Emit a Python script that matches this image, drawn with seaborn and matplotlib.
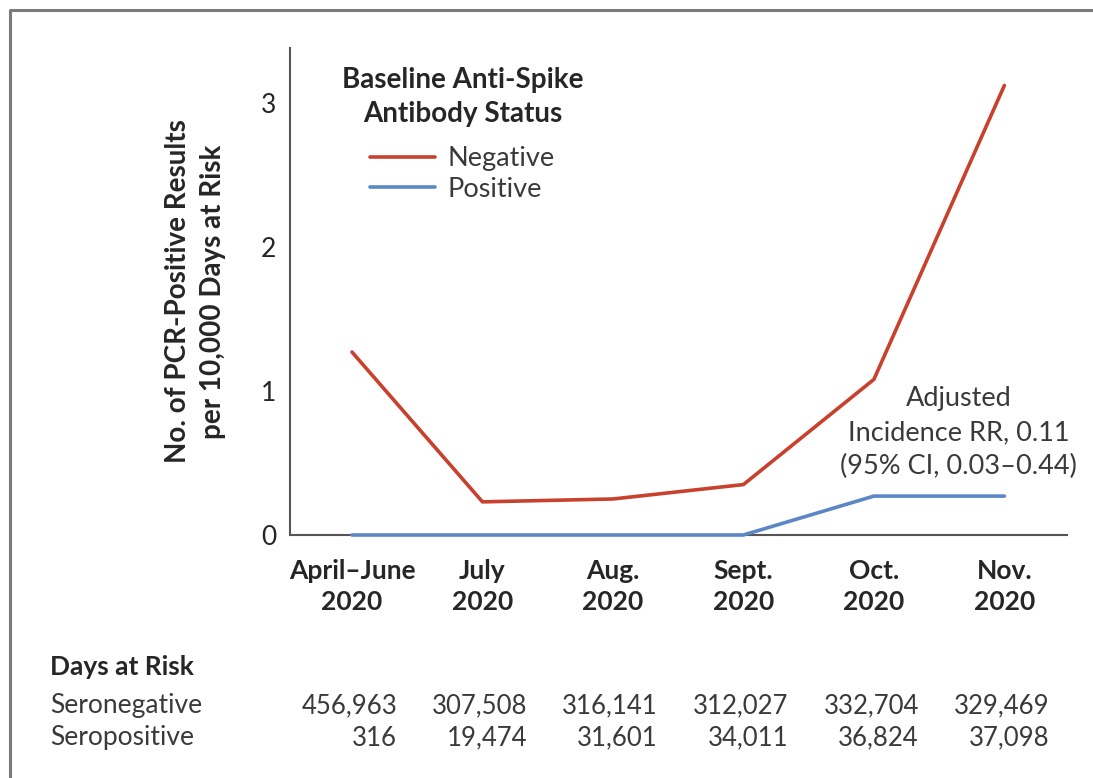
import matplotlib
matplotlib.use("Agg")
import matplotlib.pyplot as plt
import matplotlib.transforms as mtransforms
from matplotlib.lines import Line2D
import numpy as np
import pandas as pd
import seaborn as sns

# Monthly categories and incidence per 10,000 days at risk
months = ["April–June\n2020", "July\n2020", "Aug.\n2020", "Sept.\n2020", "Oct.\n2020", "Nov.\n2020"]
negative_rate = [1.27, 0.23, 0.25, 0.35, 1.08, 3.12]
positive_rate = [0.0, 0.0, 0.0, 0.0, 0.27, 0.27]
y_ticks = [0, 1, 2, 3]

# Days-at-risk table beneath the chart
seronegative_days = ["456,963", "307,508", "316,141", "312,027", "332,704", "329,469"]
seropositive_days = ["316", "19,474", "31,601", "34,011", "36,824", "37,098"]

RED = "#c8412d"
BLUE = "#5b87c6"
AXIS = "#555555"
TEXT = "#262626"
SOFT = "#3a3a3a"

sns.set_theme(style="white")
plt.rcParams["font.family"] = ["Lato", "DejaVu Sans"]

df = pd.DataFrame({
    "pos": list(range(len(months))) * 2,
    "rate": negative_rate + positive_rate,
    "status": ["Negative"] * len(months) + ["Positive"] * len(months),
})

fig = plt.figure(figsize=(10.93, 7.78), dpi=100)
ax = fig.add_axes([290 / 1093, 1 - 535 / 778, (1067 - 290) / 1093, (535 - 48) / 778])

sns.lineplot(data=df, x="pos", y="rate", hue="status",
             palette={"Negative": RED, "Positive": BLUE},
             linewidth=2.6, ax=ax, legend=False, clip_on=False, zorder=5)

ax.set_xlim(-0.475, 5.48)
ax.set_ylim(0, 3.38)
ax.set_xticks(range(len(months)))
ax.set_xticklabels(months, fontsize=19, fontweight="bold", color=TEXT, linespacing=1.35)
ax.set_yticks(y_ticks)
ax.set_yticklabels([str(t) for t in y_ticks], fontsize=19, color=TEXT)
ax.tick_params(axis="both", direction="out", length=8, width=1.5, color=AXIS)
ax.tick_params(axis="x", pad=9)
ax.tick_params(axis="y", pad=2)
ax.set_xlabel("")
ax.set_ylabel("No. of PCR-Positive Results\nper 10,000 Days at Risk",
              fontsize=20, fontweight="bold", color=TEXT, linespacing=1.4)
ax.yaxis.set_label_coords(-0.083, 0.5)

for side in ["top", "right"]:
    ax.spines[side].set_visible(False)
for side in ["left", "bottom"]:
    ax.spines[side].set_color(AXIS)
    ax.spines[side].set_linewidth(1.5)

# Legend heading and entries
fig.text(463 / 1093, 1 - 97 / 778, "Baseline Anti-Spike\nAntibody Status",
         ha="center", va="center", multialignment="center", fontsize=20,
         fontweight="bold", color=TEXT, linespacing=1.42)
handles = [Line2D([], [], color=RED, lw=2.6), Line2D([], [], color=BLUE, lw=2.6)]
leg = ax.legend(handles, ["Negative", "Positive"],
                loc="upper left", bbox_to_anchor=(370 / 1093, 1 - 146 / 778),
                bbox_transform=fig.transFigure, frameon=False,
                fontsize=19.5, handlelength=2.4,
                handletextpad=0.48, labelspacing=0.21,
                borderaxespad=0, borderpad=0)
for t in leg.get_texts():
    t.set_color(SOFT)

ax.text(4.65, 0.71, "Adjusted\nIncidence RR, 0.11\n(95% CI, 0.03–0.44)",
        ha="center", va="center", multialignment="center",
        fontsize=19.5, color=SOFT, linespacing=1.45)

# Days-at-risk table
fig.text(50 / 1093, 1 - 667 / 778, "Days at Risk", fontsize=19, fontweight="bold",
         color=TEXT, ha="left", va="center")
row_y = [1 - 706 / 778, 1 - 738 / 778]
for label, y in zip(["Seronegative", "Seropositive"], row_y):
    fig.text(50 / 1093, y, label, fontsize=19, color=SOFT, ha="left", va="center")

blend = mtransforms.blended_transform_factory(ax.transData, fig.transFigure)
for i in range(len(months)):
    for vals, y in zip([seronegative_days, seropositive_days], row_y):
        ax.text(i + 0.345, y, vals[i], transform=blend, fontsize=18.5,
                color=SOFT, ha="right", va="center", clip_on=False)

# Partial frame along the top and left edges
fig.add_artist(Line2D([10 / 1093, 10 / 1093, 1.0], [0.0, 1 - 10 / 778, 1 - 10 / 778],
                      transform=fig.transFigure, color="#7a7a7a", lw=2.2))

fig.savefig("out.png", dpi=100, facecolor="white")
